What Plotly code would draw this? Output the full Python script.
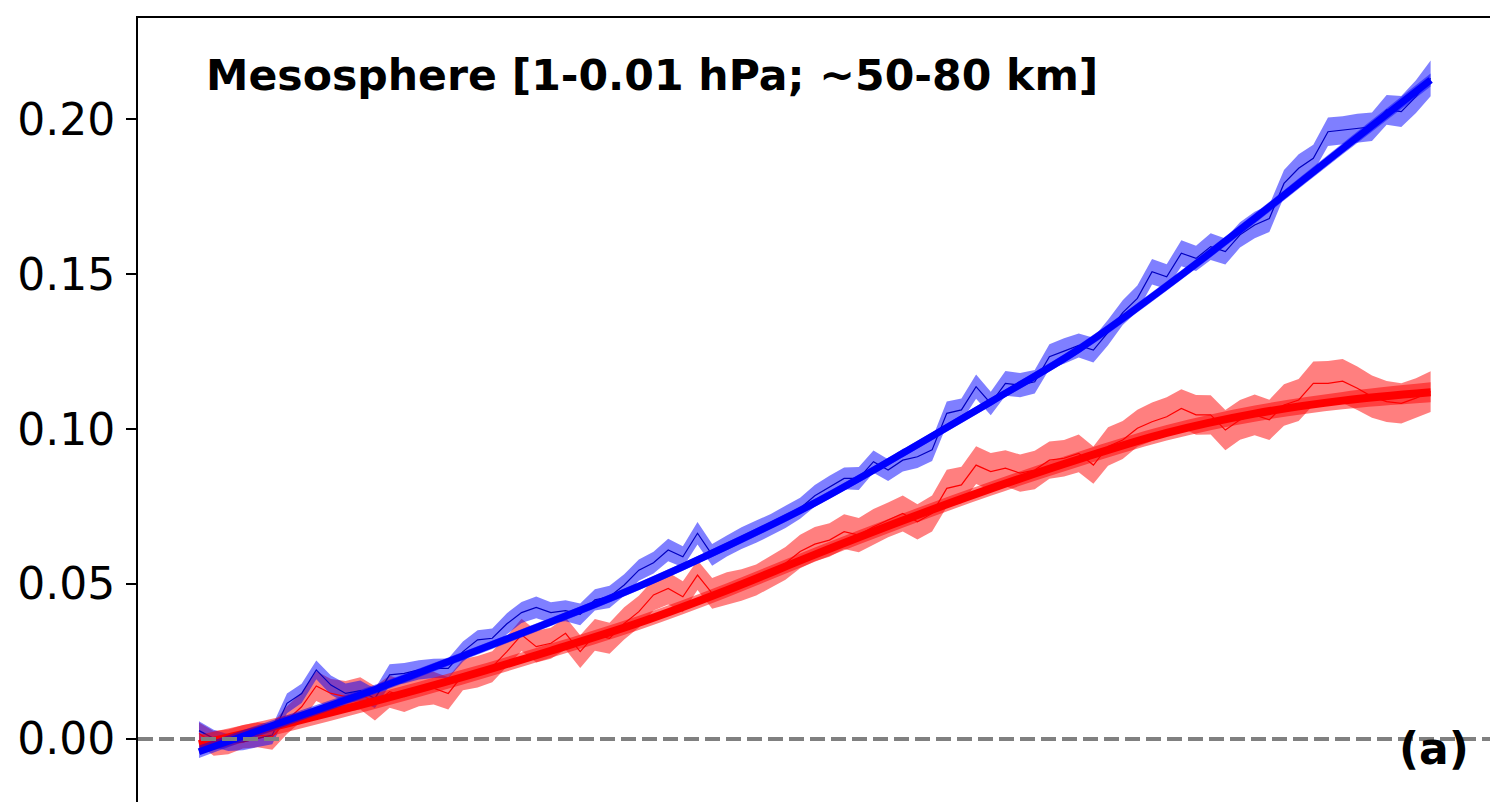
import plotly.graph_objects as go

# ---------------- data ----------------
years = list(range(2016, 2101))

blue_mean = [0.0027, 0.0002, -0.0012, -0.0009, 0.0002, 0.0013, 0.0115, 0.0147, 0.0223, 0.0174,
             0.0147, 0.0156, 0.0131, 0.0207, 0.0212, 0.0223, 0.0228, 0.0228, 0.0282, 0.0320,
             0.0325, 0.0372, 0.0408, 0.0425, 0.0408, 0.0414, 0.0402, 0.0449, 0.0459, 0.0497,
             0.0545, 0.0569, 0.0610, 0.0588, 0.0664, 0.0594, 0.0623, 0.0648, 0.0669, 0.0691,
             0.0717, 0.0745, 0.0785, 0.0814, 0.0841, 0.0841, 0.0895, 0.0868, 0.0900, 0.0911,
             0.0933, 0.1051, 0.1062, 0.1137, 0.1083, 0.1148, 0.1142, 0.1153, 0.1234, 0.1252,
             0.1270, 0.1255, 0.1312, 0.1376, 0.1422, 0.1508, 0.1492, 0.1568, 0.1551, 0.1589,
             0.1573, 0.1627, 0.1659, 0.1680, 0.1793, 0.1842, 0.1874, 0.1960, 0.1965, 0.1971,
             0.1976, 0.2030, 0.2025, 0.2073, 0.2132]

blue_std = [0.0030, 0.0028, 0.0027, 0.0027, 0.0028, 0.0030, 0.0032, 0.0031, 0.0030, 0.0031,
            0.0032, 0.0033, 0.0031, 0.0034, 0.0033, 0.0031, 0.0031, 0.0032, 0.0033, 0.0031,
            0.0032, 0.0034, 0.0034, 0.0035, 0.0033, 0.0034, 0.0035, 0.0034, 0.0036, 0.0035,
            0.0034, 0.0035, 0.0036, 0.0034, 0.0036, 0.0035, 0.0034, 0.0035, 0.0036, 0.0035,
            0.0036, 0.0034, 0.0035, 0.0036, 0.0035, 0.0037, 0.0036, 0.0035, 0.0037, 0.0036,
            0.0036, 0.0038, 0.0037, 0.0039, 0.0038, 0.0040, 0.0039, 0.0038, 0.0040, 0.0041,
            0.0039, 0.0040, 0.0041, 0.0040, 0.0042, 0.0041, 0.0040, 0.0042, 0.0041, 0.0043,
            0.0042, 0.0041, 0.0043, 0.0044, 0.0043, 0.0045, 0.0044, 0.0046, 0.0045, 0.0047,
            0.0046, 0.0048, 0.0050, 0.0053, 0.0058]

red_mean = [0.0018, -0.0014, -0.0009, 0.0007, 0.0013, 0.0007, 0.0061, 0.0104, 0.0171, 0.0147,
            0.0137, 0.0147, 0.0115, 0.0153, 0.0137, 0.0158, 0.0164, 0.0147, 0.0207, 0.0217,
            0.0233, 0.0282, 0.0336, 0.0298, 0.0309, 0.0341, 0.0282, 0.0336, 0.0325, 0.0373,
            0.0411, 0.0465, 0.0486, 0.0459, 0.0529, 0.0470, 0.0486, 0.0497, 0.0513, 0.0540,
            0.0567, 0.0605, 0.0629, 0.0642, 0.0669, 0.0658, 0.0685, 0.0707, 0.0728, 0.0701,
            0.0728, 0.0809, 0.0820, 0.0884, 0.0863, 0.0874, 0.0858, 0.0868, 0.0900, 0.0906,
            0.0922, 0.0884, 0.0944, 0.0965, 0.1003, 0.1024, 0.1040, 0.1067, 0.1046, 0.1046,
            0.0997, 0.1030, 0.1046, 0.1030, 0.1078, 0.1094, 0.1148, 0.1148, 0.1155, 0.1132,
            0.1105, 0.1089, 0.1083, 0.1100, 0.1121]

red_std = [0.0035, 0.0040, 0.0040, 0.0038, 0.0040, 0.0042, 0.0045, 0.0046, 0.0048, 0.0047,
           0.0050, 0.0052, 0.0055, 0.0052, 0.0050, 0.0052, 0.0053, 0.0052, 0.0050, 0.0051,
           0.0050, 0.0050, 0.0052, 0.0051, 0.0050, 0.0052, 0.0053, 0.0051, 0.0050, 0.0052,
           0.0051, 0.0050, 0.0052, 0.0050, 0.0048, 0.0050, 0.0052, 0.0051, 0.0050, 0.0052,
           0.0053, 0.0054, 0.0055, 0.0054, 0.0056, 0.0055, 0.0057, 0.0056, 0.0058, 0.0057,
           0.0058, 0.0060, 0.0059, 0.0061, 0.0060, 0.0058, 0.0060, 0.0062, 0.0060, 0.0059,
           0.0061, 0.0060, 0.0062, 0.0061, 0.0060, 0.0062, 0.0063, 0.0062, 0.0064, 0.0063,
           0.0065, 0.0064, 0.0066, 0.0065, 0.0067, 0.0068, 0.0070, 0.0072, 0.0071, 0.0070,
           0.0068, 0.0066, 0.0065, 0.0064, 0.0066]

fit_years = [2016, 2022, 2028, 2034, 2040, 2046, 2052, 2058, 2064, 2070, 2076, 2082, 2088, 2094, 2100]
blue_fit = [-0.0041, 0.0060, 0.0160, 0.0268, 0.0378, 0.0493, 0.0622, 0.0762, 0.0922, 0.1088,
            0.1258, 0.1462, 0.1680, 0.1905, 0.2127]
blue_fit_err = [0.0020, 0.0017, 0.0015, 0.0014, 0.0013, 0.0013, 0.0013, 0.0013, 0.0013, 0.0013,
                0.0014, 0.0015, 0.0016, 0.0018, 0.0021]
red_fit = [-0.0017, 0.0050, 0.0122, 0.0200, 0.0285, 0.0375, 0.0480, 0.0595, 0.0705, 0.0808,
           0.0903, 0.0988, 0.1050, 0.1092, 0.1119]
red_fit_err = [0.0030, 0.0027, 0.0025, 0.0024, 0.0023, 0.0023, 0.0023, 0.0023, 0.0023, 0.0023,
               0.0024, 0.0025, 0.0026, 0.0028, 0.0032]

y_tick_vals = [0.00, 0.05, 0.10, 0.15, 0.20]
y_tick_text = ["0.00", "0.05", "0.10", "0.15", "0.20"]
title_text = "Mesosphere [1-0.01 hPa; ~50-80 km]"
panel_label = "(a)"

# ---------------- figure ----------------
W, H = 1490, 802
ML, MT = 138, 18
PW, PH = W - ML, H - MT

def px_to_paper_x(px):
    return (px - ML) / PW

def px_to_paper_y(py):
    return (H - py) / PH

fig = go.Figure()

def band(x, lo, hi, color, shape="linear"):
    fig.add_trace(go.Scatter(x=x, y=hi, mode="lines", line=dict(width=0, shape=shape),
                             hoverinfo="skip", showlegend=False))
    fig.add_trace(go.Scatter(x=x, y=lo, mode="lines", line=dict(width=0, shape=shape),
                             fill="tonexty", fillcolor=color, hoverinfo="skip", showlegend=False))

red_lo = [m - s for m, s in zip(red_mean, red_std)]
red_hi = [m + s for m, s in zip(red_mean, red_std)]
blue_lo = [m - s for m, s in zip(blue_mean, blue_std)]
blue_hi = [m + s for m, s in zip(blue_mean, blue_std)]

band(years, red_lo, red_hi, "rgba(255,0,0,0.5)")
band(years, blue_lo, blue_hi, "rgba(0,0,255,0.5)")

fig.add_trace(go.Scatter(x=years, y=red_mean, mode="lines",
                         line=dict(color="#ff0000", width=1.2), showlegend=False))
fig.add_trace(go.Scatter(x=years, y=blue_mean, mode="lines",
                         line=dict(color="#0000c0", width=1.2), showlegend=False))

band(fit_years, [m - e for m, e in zip(red_fit, red_fit_err)],
     [m + e for m, e in zip(red_fit, red_fit_err)], "rgba(255,0,0,0.5)", shape="spline")
fig.add_trace(go.Scatter(x=fit_years, y=red_fit, mode="lines",
                         line=dict(color="#ff0000", width=8, shape="spline"), showlegend=False))
band(fit_years, [m - e for m, e in zip(blue_fit, blue_fit_err)],
     [m + e for m, e in zip(blue_fit, blue_fit_err)], "rgba(0,0,255,0.5)", shape="spline")
fig.add_trace(go.Scatter(x=fit_years, y=blue_fit, mode="lines",
                         line=dict(color="#0000ff", width=7, shape="spline"), showlegend=False))

fig.add_shape(type="line", xref="paper", yref="y", x0=0, x1=1, y0=0, y1=0,
              line=dict(color="#808080", width=3.8, dash="15px,6px"), layer="above")

fig.add_annotation(text="<b>" + title_text + "</b>", xref="paper", yref="paper",
                   x=px_to_paper_x(204), y=px_to_paper_y(75), xanchor="left", yanchor="middle",
                   showarrow=False, font=dict(family="DejaVu Sans", size=42.6, color="black"))
fig.add_annotation(text="<b>" + panel_label + "</b>", xref="paper", yref="paper",
                   x=px_to_paper_x(1471), y=px_to_paper_y(748), xanchor="right", yanchor="middle",
                   showarrow=False, font=dict(family="DejaVu Sans", size=44, color="black"))

fig.update_layout(
    width=W, height=H,
    margin=dict(l=ML, r=0, t=MT, b=0, pad=0),
    paper_bgcolor="white", plot_bgcolor="white",
    font=dict(family="DejaVu Sans", color="black"),
    showlegend=False,
)
fig.update_xaxes(range=[2011.84, 2104.05], side="top", showline=True, linecolor="black",
                 linewidth=1.8, showticklabels=False, ticks="", showgrid=False, zeroline=False)
fig.update_yaxes(range=[-0.02033, 0.23269], showline=True, linecolor="black", linewidth=1.8,
                 ticks="outside", ticklen=10, tickwidth=1.8, tickcolor="black",
                 tickvals=y_tick_vals, ticktext=y_tick_text, ticklabelstandoff=2,
                 tickfont=dict(family="DejaVu Sans", size=44, color="black"),
                 showgrid=False, zeroline=False)

# remove the browser's default page margin so the figure fills the window exactly
fig.write_html("out.html", config={"displayModeBar": False},
               post_script="document.body.style.margin='0';")
